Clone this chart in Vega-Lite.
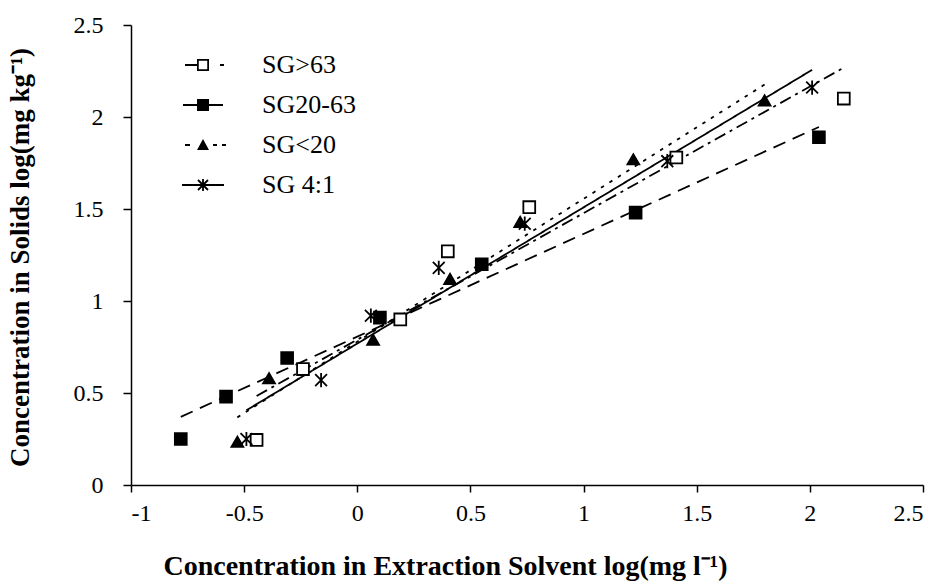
{
  "$schema": "https://vega.github.io/schema/vega-lite/v6.json",
  "autosize": {"type": "none"},
  "width": 792,
  "height": 460,
  "padding": {"left": 131, "top": 25, "right": 18, "bottom": 96},
  "background": "white",
  "config": {
    "view": {"stroke": null},
    "font": "Liberation Serif",
    "axis": {"grid": false, "domainColor": "black", "tickColor": "black", "labelColor": "black", "titleColor": "black", "domainWidth": 1.5, "tickWidth": 1.5, "labelFont": "Liberation Serif", "titleFont": "Liberation Serif"}
  },
  "data": {"values": [
    {"series": "SG>63", "x": -0.445, "y": 0.245},
    {"series": "SG>63", "x": -0.24, "y": 0.63},
    {"series": "SG>63", "x": 0.19, "y": 0.90},
    {"series": "SG>63", "x": 0.40, "y": 1.27},
    {"series": "SG>63", "x": 0.76, "y": 1.51},
    {"series": "SG>63", "x": 1.41, "y": 1.78},
    {"series": "SG>63", "x": 2.15, "y": 2.10},
    {"series": "SG20-63", "x": -0.78, "y": 0.25},
    {"series": "SG20-63", "x": -0.58, "y": 0.48},
    {"series": "SG20-63", "x": -0.31, "y": 0.69},
    {"series": "SG20-63", "x": 0.10, "y": 0.91},
    {"series": "SG20-63", "x": 0.55, "y": 1.20},
    {"series": "SG20-63", "x": 1.23, "y": 1.48},
    {"series": "SG20-63", "x": 2.04, "y": 1.89},
    {"series": "SG<20", "x": -0.53, "y": 0.235},
    {"series": "SG<20", "x": -0.39, "y": 0.58},
    {"series": "SG<20", "x": 0.07, "y": 0.79},
    {"series": "SG<20", "x": 0.41, "y": 1.12},
    {"series": "SG<20", "x": 0.72, "y": 1.43},
    {"series": "SG<20", "x": 1.22, "y": 1.77},
    {"series": "SG<20", "x": 1.80, "y": 2.09},
    {"series": "SG 4:1", "x": -0.49, "y": 0.25},
    {"series": "SG 4:1", "x": -0.16, "y": 0.57},
    {"series": "SG 4:1", "x": 0.06, "y": 0.92},
    {"series": "SG 4:1", "x": 0.36, "y": 1.18},
    {"series": "SG 4:1", "x": 0.74, "y": 1.42},
    {"series": "SG 4:1", "x": 1.37, "y": 1.76},
    {"series": "SG 4:1", "x": 2.01, "y": 2.16}
  ]},
  "encoding": {
    "x": {"field": "x", "type": "quantitative", "scale": {"domain": [-1, 2.5], "nice": false, "zero": false},
      "axis": {"values": [-1, -0.5, 0, 0.5, 1, 1.5, 2, 2.5], "labelExpr": "'' + datum.value", "labelFontSize": 24, "labelPadding": 9, "tickSize": 7,
        "title": "Concentration in Extraction Solvent  log(mg l⁻¹)", "titleFontSize": 28, "titleFontWeight": "bold", "titleX": 314, "titleY": 81, "titleBaseline": "middle", "titleAlign": "center"}},
    "y": {"field": "y", "type": "quantitative", "scale": {"domain": [0, 2.5], "nice": false},
      "axis": {"values": [0, 0.5, 1, 1.5, 2, 2.5], "labelExpr": "'' + datum.value", "labelFontSize": 24, "labelPadding": 20, "tickSize": 8,
        "title": "Concentration in Solids  log(mg kg⁻¹)", "titleFontSize": 27, "titleFontWeight": "bold", "titleX": -111, "titleY": 232, "titleBaseline": "middle", "titleAlign": "center", "titleAngle": -90}}
  },
  "resolve": {"scale": {"shape": "independent"}, "legend": {"shape": "independent"}},
  "layer": [
    {
      "transform": [{"regression": "y", "on": "x", "groupby": ["series"]}],
      "mark": {"type": "line", "color": "black", "strokeWidth": 1.8},
      "encoding": {
        "strokeDash": {"field": "series", "type": "nominal",
          "scale": {"range": [[1, 0], [13, 8], [3.5, 6.5], [12, 5, 3, 5]]},
          "legend": null}
      }
    },
    {
      "mark": {"type": "point", "filled": true, "opacity": 1, "stroke": "black", "strokeWidth": 1.8},
      "encoding": {
        "shape": {"field": "series", "type": "nominal",
          "scale": {"range": ["M-1,-1L1,1M-1,1L1,-1M0,-1.2L0,1.2", "square", "triangle-up", "square"]},
          "legend": null},
        "size": {"value": 140},
        "fill": {"condition": {"test": "datum.series === 'SG>63'", "value": "white"}, "value": "black"}
      }
    },
    {
      "mark": {"type": "point", "filled": true, "opacity": 0, "fill": "black"},
      "encoding": {
        "shape": {"field": "series", "type": "nominal",
          "scale": {"domain": ["SG>63", "SG20-63", "SG<20", "SG 4:1"],
            "range": [
              "M-3.6,-0.18L-1.2,-0.18L-1.2,0.18L-3.6,0.18ZM-1.2,-1.2L1.2,-1.2L1.2,1.2L-1.2,1.2ZM-0.85,-0.85L-0.85,0.85L0.85,0.85L0.85,-0.85ZM3.4,-0.18L4.2,-0.18L4.2,0.18L3.4,0.18Z",
              "M-4,-0.18L4,-0.18L4,0.18L-4,0.18ZM-1.2,-1.2L1.2,-1.2L1.2,1.2L-1.2,1.2Z",
              "M-3.6,-0.18L-2.6,-0.18L-2.6,0.18L-3.6,0.18ZM0,-1.2L1.2,1L-1.2,1ZM2,-0.18L2.8,-0.18L2.8,0.18L2,0.18ZM3.8,-0.18L4.6,-0.18L4.6,0.18L3.8,0.18Z",
              "M-4.2,-0.18L4.2,-0.18L4.2,0.18L-4.2,0.18ZM-0.18,-1.2L0.18,-1.2L0.18,1.2L-0.18,1.2ZM-0.873,-1.127L1.127,0.873L0.873,1.127L-1.127,-0.873ZM-0.873,1.127L-1.127,0.873L0.873,-1.127L1.127,-0.873Z"
            ]},
          "legend": {"orient": "none", "legendX": 59, "legendY": 27, "title": null, "labelFont": "Liberation Serif", "labelFontSize": 26, "labelColor": "black",
            "symbolSize": 100, "symbolOpacity": 1, "symbolFillColor": "black", "symbolStrokeColor": "black", "symbolStrokeWidth": 0,
            "labelOffset": 46, "rowPadding": 14}},
        "size": {"value": 100}
      }
    }
  ]
}
